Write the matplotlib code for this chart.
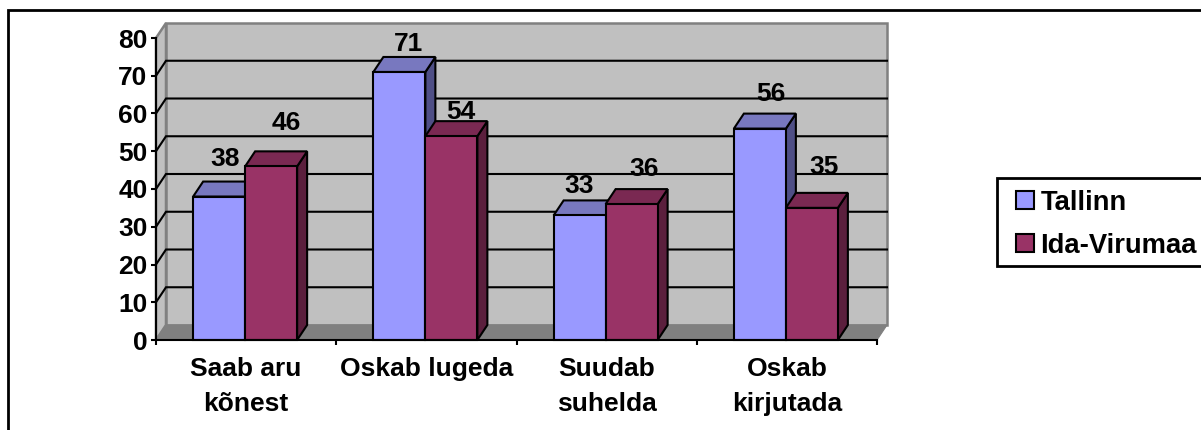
import matplotlib
matplotlib.use('Agg')
import matplotlib.pyplot as plt
from matplotlib.patches import Polygon, Rectangle, Patch
from matplotlib.ticker import FixedLocator, NullFormatter

plt.rcParams['font.family'] = ['Liberation Sans', 'DejaVu Sans']
plt.rcParams['font.weight'] = 'bold'

categories = ['Saab aru\nkõnest', 'Oskab lugeda', 'Suudab\nsuhelda', 'Oskab\nkirjutada']
tallinn = [38, 71, 33, 56]
ida_virumaa = [46, 54, 36, 35]
y_ticks = [0, 10, 20, 30, 40, 50, 60, 70, 80]

# data labels sit at odd places in the original, offsets in pixels from bar top
tallinn_offsets = [(6, 38), (9, 28), (-1, 29), (11, 35)]
ida_offsets = [(15, 43), (9, 24), (12, 35), (12, 41)]

W, H = 1201, 430
LEFT, RIGHT, TOP, BOTTOM = 156, 877, 38, 340
DX_PX, DY_PX = 10, 15
FS = 19
LW = 1.5

fig = plt.figure(figsize=(W / 100, H / 100), dpi=100)
ax = fig.add_axes([LEFT / W, 1 - BOTTOM / H, (RIGHT - LEFT) / W, (BOTTOM - TOP) / H])
ax.set_xlim(0, len(categories))
ax.set_ylim(0, y_ticks[-1])
ax.patch.set_visible(False)

dx = DX_PX * len(categories) / (RIGHT - LEFT)
dy = DY_PX * y_ticks[-1] / (BOTTOM - TOP)
ymax = y_ticks[-1]
xmax = len(categories)


def poly(points, face, edge='black', lw=LW, z=2):
    ax.add_patch(Polygon(points, closed=True, facecolor=face, edgecolor=edge,
                         linewidth=lw, joinstyle='miter', zorder=z, clip_on=False))


# walls and floor
poly([(0, 0), (dx, dy), (dx, ymax + dy), (0, ymax)], '#c0c0c0', '#808080', 1.8, 1)
poly([(dx, dy), (xmax + dx, dy), (xmax + dx, ymax + dy), (dx, ymax + dy)], '#c0c0c0', '#808080', 1.8, 1)
poly([(0, 0), (dx, dy), (xmax + dx, dy), (xmax, 0)], '#808080', '#808080', 0.8, 1)

for t in y_ticks[1:-1]:
    ax.plot([0, dx, xmax + dx], [t, t + dy, t + dy], color='black', lw=LW, zorder=1.5,
            clip_on=False, solid_joinstyle='miter')


def bar3d(x, w, h, front, top, side, z):
    poly([(x + w, 0), (x + w + dx, dy), (x + w + dx, h + dy), (x + w, h)], side, z=z)
    poly([(x, h), (x + dx, h + dy), (x + w + dx, h + dy), (x + w, h)], top, z=z)
    poly([(x, 0), (x + w, 0), (x + w, h), (x, h)], front, z=z)


group_px = (RIGHT - LEFT) / len(categories)
bar_w = 52 / group_px
nudge = -1 / group_px
series = [(tallinn, tallinn_offsets, -bar_w, '#9999ff', '#7878bf', '#4f4f86'),
          (ida_virumaa, ida_offsets, 0, '#993366', '#7a2952', '#5b1f3d')]

for i in range(len(categories)):
    for j, (vals, offs, shift, front, top, side) in enumerate(series):
        x = i + 0.5 + shift + nudge
        bar3d(x, bar_w, vals[i], front, top, side, 3 + i + j * 0.1)
        ax.annotate(str(vals[i]), (x + bar_w / 2, vals[i]), xytext=offs[i],
                    textcoords='offset pixels', ha='center', va='center',
                    fontsize=FS, fontweight='bold', zorder=10, annotation_clip=False)

# axes
for name in ['top', 'right']:
    ax.spines[name].set_visible(False)
for name in ['left', 'bottom']:
    ax.spines[name].set_linewidth(LW)
    ax.spines[name].set_zorder(9)
ax.set_yticks(y_ticks)
ax.tick_params(axis='y', length=3.6, width=LW, labelsize=FS, pad=2.5)
ax.xaxis.set_major_locator(FixedLocator(range(len(categories) + 1)))
ax.xaxis.set_major_formatter(NullFormatter())
ax.tick_params(axis='x', which='major', length=3.6, width=LW)
ax.set_xticks([i + 0.5 for i in range(len(categories))], categories, minor=True)
ax.tick_params(axis='x', which='minor', length=0, labelsize=FS, pad=12)
for lab in ax.get_xticklabels(minor=True):
    lab.set_linespacing(1.62)
    lab.set_fontweight('bold')

# chart frame runs off the right and bottom of the image
fig.add_artist(Rectangle((8 / W, -0.1), 1.1, 1.1 - 10 / H, transform=fig.transFigure,
                         facecolor='none', edgecolor='black', linewidth=2))

# legend box is drawn apart so the row spacing and side padding can differ
fig.add_artist(Rectangle((997 / W, 1 - 266 / H), 220 / W, 88 / H, transform=fig.transFigure,
                         facecolor='white', edgecolor='black', linewidth=2))
handles = [Patch(facecolor='#9999ff', edgecolor='black', linewidth=LW),
           Patch(facecolor='#993366', edgecolor='black', linewidth=LW)]
leg = fig.legend(handles, ['Tallinn', 'Ida-Virumaa'], loc='upper left',
                 bbox_to_anchor=(1016 / W, 1 - 189.5 / H), bbox_transform=fig.transFigure,
                 fontsize=19.7, frameon=False, borderaxespad=0, borderpad=0,
                 handlelength=0.656, handleheight=0.656, handletextpad=0.24, labelspacing=0.63)

fig.savefig('out.png', dpi=100)
